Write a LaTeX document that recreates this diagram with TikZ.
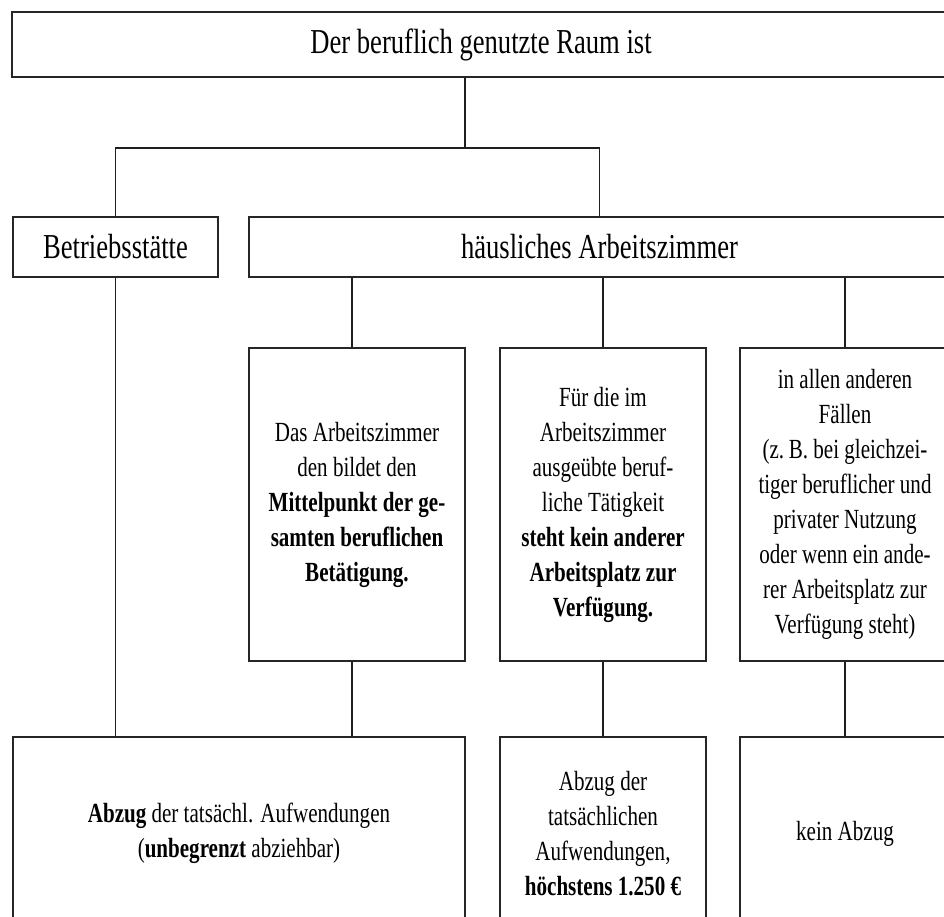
\documentclass[tikz,border=0pt]{standalone}
\usepackage{fontspec}
\setmainfont{Liberation Serif}[FakeStretch=0.76]
\usepackage{xcolor}
\usepackage{tikz}
\definecolor{BoxLine}{HTML}{262626}
\definecolor{LinkLine}{HTML}{1F1F1F}

\tikzset{
  box/.style={draw=BoxLine, line width=2.2pt, inner sep=0pt, align=center,
              font=\fontsize{27.7}{35}\selectfont},
  headbox/.style={box, font=\fontsize{35}{40}\selectfont},
  link/.style={draw=LinkLine, line width=1.4pt},
}

\begin{document}
\begin{tikzpicture}[x=1pt, y=-1pt]
  \useasboundingbox (0,0) rectangle (944,917);
  \clip (0,0) rectangle (944,917);

  % first and second level
  \node[headbox, minimum width=938pt, minimum height=65pt] (raum) at (481,44.5)
    {Der beruflich genutzte Raum ist};
  \node[headbox, minimum width=205pt, minimum height=60pt] (betr) at (115.5,247)
    {Betriebsstätte};
  \node[headbox, minimum width=701pt, minimum height=60pt] (haus) at (599.5,247)
    {häusliches Arbeitszimmer};

  % the three cases
  \node[box, minimum width=216pt, minimum height=313pt] (mittel) at (357,504.5)
    {Das Arbeitszimmer\\den bildet den\\\textbf{Mittelpunkt der ge-}\\
     \textbf{samten beruflichen}\\\textbf{Betätigung.}};
  \node[box, minimum width=206pt, minimum height=313pt] (platz) at (603,504.5)
    {Für die im\\Arbeitszimmer\\ausgeübte beruf-\\liche Tätigkeit\\
     \textbf{steht kein anderer}\\\textbf{Arbeitsplatz zur}\\\textbf{Verfügung.}};
  \node[box, minimum width=210pt, minimum height=313pt] (sonst) at (845,504.5)
    {in allen anderen\\Fällen\\(z.\,B. bei gleichzei-\\tiger beruflicher und\\
     privater Nutzung\\oder wenn ein ande-\\rer Arbeitsplatz zur\\Verfügung steht)};

  % results
  \node[box, minimum width=452pt, minimum height=193pt] (voll) at (239,833.5)
    {\textbf{Abzug} der tatsächl. Aufwendungen\\(\textbf{unbegrenzt} abziehbar)};
  \node[box, minimum width=206pt, minimum height=193pt] (hoechst) at (603,833.5)
    {Abzug der\\tatsächlichen\\Aufwendungen,\\\textbf{höchstens 1.250 €}};
  \node[box, minimum width=210pt, minimum height=193pt] (kein) at (845,833.5)
    {kein Abzug};

  % connectors
  \draw[link] ([xshift=-16pt]raum.south) -- ++(0,70) coordinate (fork);
  \draw[link] (betr.north) |- (fork) -| (haus.north);
  \draw[link] ([xshift=-5pt]mittel.north) -- ([xshift=-5pt]mittel.north |- haus.south);
  \foreach \c in {platz, sonst}
    \draw[link] (\c.north) -- (\c.north |- haus.south);
  \draw[link] (betr.south) -- (betr.south |- voll.north);
  \draw[link] ([xshift=-5pt]mittel.south) -- ([xshift=-5pt]mittel.south |- voll.north);
  \draw[link] (platz.south) -- (hoechst.north);
  \draw[link] (sonst.south) -- (kein.north);
\end{tikzpicture}
\end{document}
